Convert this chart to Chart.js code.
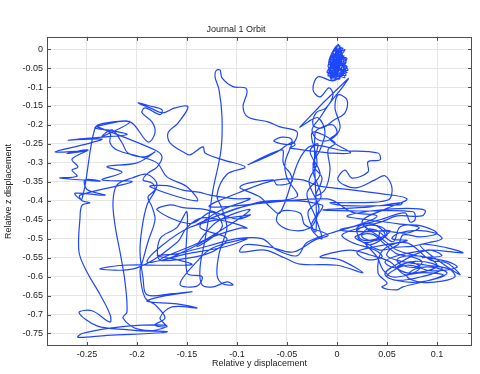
<!DOCTYPE html>
<html>
<head>
<meta charset="utf-8">
<title>Journal 1 Orbit</title>
<script src="https://cdn.jsdelivr.net/npm/chart.js@4.4.1/dist/chart.umd.min.js"></script>
<style>
  html, body { margin: 0; padding: 0; background: #fff; }
  #orbitChart { display: block; }
</style>
</head>
<body>
<canvas id="orbitChart" width="480" height="374"></canvas>
<script>
// ---------------- Orbit data (relative y, relative z) ----------------
// segment by segment along the path

const startCluster = [
  [0.000, 0.000], [-0.004, -0.035], [0.003, 0.008], [-0.007, -0.055], [0.005, -0.010],
  [-0.009, -0.070], [0.009, -0.035], [-0.003, -0.002], [-0.006, -0.080], [0.007, -0.062],
  [0.001, 0.010], [-0.008, -0.040], [0.010, -0.045], [-0.002, -0.075], [0.004, -0.015],
  [-0.005, -0.022], [0.008, -0.002], [-0.010, -0.060], [0.002, -0.058], [-0.001, 0.005],
  [-0.006, -0.035], [0.009, -0.060], [-0.004, -0.070], [0.005, -0.028], [0.001, 0.012],
  [-0.003, -0.055], [0.007, -0.018], [-0.007, -0.065], [0.003, -0.045], [0.000, -0.003],
  [-0.005, -0.050], [0.006, -0.040], [0.004, -0.070], [-0.008, -0.050], [0.011, -0.055],
  [-0.004, -0.010], [0.006, 0.002], [-0.009, -0.045], [0.008, -0.075], [-0.002, -0.030],
  [0.010, -0.025], [-0.006, -0.078], [0.002, -0.008], [-0.007, -0.028], [0.009, -0.068],
  [-0.003, -0.062], [0.004, -0.038], [-0.006, -0.072], [0.007, -0.050], [-0.002, -0.015],
  [0.004, 0.004], [-0.008, -0.058], [0.010, -0.062], [-0.001, -0.045], [0.006, -0.020],
  [-0.009, -0.066], [0.003, -0.078], [-0.005, -0.040], [0.008, -0.030], [-0.002, 0.002],
  [0.002, -0.052], [-0.007, -0.074], [0.009, -0.048], [-0.003, -0.025], [0.005, -0.065],
  [-0.004, -0.084]
];

const upperDrift = [
  [-0.019, -0.073], [-0.024, -0.107], [-0.017, -0.126], [-0.008, -0.102], [-0.004, -0.121],
  [-0.011, -0.155], [-0.021, -0.168], [-0.024, -0.200], [-0.015, -0.208], [-0.003, -0.187],
  [0.008, -0.168], [0.010, -0.134], [0.001, -0.121], [-0.002, -0.155], [0.003, -0.208],
  [-0.007, -0.239], [-0.019, -0.239], [-0.025, -0.213], [-0.017, -0.181], [-0.007, -0.142],
  [0.005, -0.102], [0.011, -0.078], [-0.037, -0.205], [-0.029, -0.192], [-0.019, -0.181],
  [-0.012, -0.218], [-0.017, -0.266], [-0.024, -0.305], [-0.015, -0.340], [-0.021, -0.385],
  [-0.012, -0.371], [-0.007, -0.319], [-0.009, -0.266], [-0.002, -0.247]
];

const centreColumn = [
  [-0.025, -0.220], [-0.020, -0.300], [-0.028, -0.350], [-0.018, -0.420], [-0.026, -0.470],
  [-0.015, -0.500], [-0.022, -0.440], [-0.030, -0.380], [-0.017, -0.330], [-0.027, -0.270],
  [-0.019, -0.250], [-0.024, -0.320], [-0.016, -0.390], [-0.029, -0.430], [-0.021, -0.480],
  [-0.022, -0.221], [-0.014, -0.205], [-0.004, -0.200], [0.000, -0.221], [-0.007, -0.239],
  [0.013, -0.274], [-0.047, -0.261], [-0.042, -0.253], [-0.044, -0.245], [-0.050, -0.253],
  [-0.060, -0.271], [-0.089, -0.305], [-0.055, -0.266], [-0.054, -0.297], [-0.052, -0.311],
  [-0.047, -0.327], [-0.045, -0.350], [-0.060, -0.358], [-0.064, -0.345], [-0.097, -0.363],
  [-0.077, -0.390], [-0.067, -0.416], [-0.057, -0.432]
];

const upperRight = [
  [-0.030, -0.262], [0.008, -0.268], [0.041, -0.274], [0.043, -0.292], [0.031, -0.297],
  [0.031, -0.324], [0.015, -0.340], [0.008, -0.319], [0.001, -0.345], [0.018, -0.366],
  [0.038, -0.345], [0.048, -0.334], [0.055, -0.366], [0.051, -0.398]
];

const rightTangle = [
  [0.013, -0.405], [-0.007, -0.405], [0.008, -0.413], [0.063, -0.411], [0.065, -0.405],
  [0.033, -0.416], [-0.014, -0.424], [0.023, -0.427], [0.076, -0.429], [0.078, -0.450],
  [0.073, -0.456], [0.068, -0.432], [0.043, -0.450], [0.023, -0.464], [0.003, -0.477],
  [0.028, -0.482], [0.053, -0.479], [0.043, -0.498], [0.025, -0.503], [0.020, -0.472],
  [0.035, -0.461], [0.048, -0.490], [0.033, -0.516], [0.021, -0.495], [0.038, -0.477],
  [0.056, -0.508], [0.063, -0.469], [0.080, -0.464], [0.096, -0.477], [0.100, -0.487],
  [0.083, -0.495], [0.066, -0.490], [0.061, -0.516], [0.043, -0.530], [0.028, -0.511],
  [0.040, -0.548], [0.046, -0.582], [0.056, -0.601], [0.083, -0.590], [0.106, -0.595],
  [0.093, -0.609], [0.066, -0.627], [0.060, -0.635], [0.045, -0.628], [0.050, -0.617],
  [0.041, -0.590], [0.046, -0.530], [0.070, -0.511], [0.093, -0.556], [0.110, -0.564],
  [0.123, -0.595], [0.103, -0.561], [0.083, -0.516], [0.110, -0.524], [0.126, -0.537],
  [0.115, -0.535], [0.093, -0.530], [0.063, -0.543], [0.048, -0.561], [0.058, -0.577],
  [0.073, -0.561], [0.083, -0.577], [0.068, -0.595], [0.053, -0.561], [0.033, -0.543],
  [0.013, -0.530], [-0.017, -0.548], [0.003, -0.556], [0.026, -0.590], [0.000, -0.570]
];

const middleBand = [
  [-0.037, -0.567], [-0.052, -0.551], [-0.072, -0.530], [-0.097, -0.535], [-0.092, -0.516],
  [-0.067, -0.522], [-0.044, -0.535], [-0.022, -0.503], [-0.009, -0.490], [-0.032, -0.464],
  [-0.037, -0.432], [-0.057, -0.429], [-0.060, -0.456], [-0.047, -0.477], [-0.027, -0.472],
  [-0.019, -0.437], [-0.015, -0.411], [-0.060, -0.400], [-0.100, -0.420], [-0.140, -0.462],
  [-0.120, -0.440], [-0.080, -0.405], [-0.040, -0.389], [-0.050, -0.340], [-0.052, -0.300],
  [-0.045, -0.240], [-0.055, -0.232], [-0.063, -0.243], [-0.045, -0.250], [-0.040, -0.218],
  [-0.057, -0.205], [-0.069, -0.192], [-0.089, -0.179], [-0.094, -0.152], [-0.090, -0.115],
  [-0.092, -0.102], [-0.104, -0.099], [-0.115, -0.076], [-0.117, -0.055], [-0.121, -0.057],
  [-0.122, -0.073], [-0.118, -0.107], [-0.115, -0.179], [-0.116, -0.266], [-0.124, -0.371],
  [-0.127, -0.424], [-0.132, -0.503], [-0.137, -0.577], [-0.135, -0.622], [-0.124, -0.627],
  [-0.110, -0.614], [-0.104, -0.622], [-0.115, -0.618], [-0.120, -0.595], [-0.118, -0.540],
  [-0.113, -0.500], [-0.110, -0.470], [-0.115, -0.420], [-0.120, -0.385], [-0.110, -0.330],
  [-0.092, -0.311], [-0.114, -0.292], [-0.132, -0.274], [-0.134, -0.258], [-0.147, -0.279]
];

const upperLeft = [
  [-0.152, -0.274], [-0.167, -0.247], [-0.169, -0.221], [-0.159, -0.195], [-0.149, -0.152],
  [-0.162, -0.155], [-0.174, -0.168], [-0.187, -0.155], [-0.199, -0.142], [-0.187, -0.150],
  [-0.175, -0.160], [-0.177, -0.173], [-0.192, -0.155], [-0.195, -0.168], [-0.185, -0.192],
  [-0.182, -0.221], [-0.189, -0.245], [-0.207, -0.192], [-0.234, -0.200], [-0.242, -0.208],
  [-0.225, -0.215], [-0.210, -0.225], [-0.235, -0.232], [-0.269, -0.240], [-0.235, -0.237],
  [-0.250, -0.250], [-0.282, -0.271], [-0.250, -0.268], [-0.270, -0.275], [-0.249, -0.266],
  [-0.265, -0.290], [-0.259, -0.311], [-0.265, -0.319], [-0.260, -0.335], [-0.277, -0.340],
  [-0.237, -0.348], [-0.252, -0.345], [-0.250, -0.370], [-0.232, -0.385], [-0.262, -0.380],
  [-0.255, -0.395]
];

const upperLeftWiggles = [
  [-0.242, -0.208], [-0.232, -0.195], [-0.207, -0.192], [-0.235, -0.231], [-0.225, -0.213],
  [-0.215, -0.247], [-0.209, -0.274], [-0.192, -0.284], [-0.182, -0.271], [-0.200, -0.300],
  [-0.230, -0.310], [-0.215, -0.325], [-0.235, -0.345], [-0.205, -0.350]
];

const leftColumns = [
  [-0.257, -0.385], [-0.255, -0.400], [-0.247, -0.405], [-0.255, -0.412], [-0.257, -0.445],
  [-0.258, -0.535], [-0.250, -0.588], [-0.237, -0.647], [-0.227, -0.700], [-0.227, -0.720],
  [-0.245, -0.690], [-0.258, -0.695], [-0.240, -0.730], [-0.210, -0.740], [-0.185, -0.743],
  [-0.170, -0.730], [-0.195, -0.728], [-0.225, -0.735], [-0.255, -0.750], [-0.259, -0.760],
  [-0.230, -0.755], [-0.175, -0.748], [-0.170, -0.745], [-0.200, -0.738], [-0.214, -0.709],
  [-0.210, -0.693], [-0.212, -0.614], [-0.217, -0.535], [-0.222, -0.464], [-0.224, -0.403],
  [-0.220, -0.358], [-0.205, -0.340], [-0.190, -0.330], [-0.180, -0.358], [-0.190, -0.411],
  [-0.195, -0.472], [-0.197, -0.535], [-0.194, -0.603], [-0.190, -0.648], [-0.165, -0.645],
  [-0.145, -0.640], [-0.175, -0.652], [-0.190, -0.665], [-0.160, -0.672], [-0.140, -0.683],
  [-0.165, -0.680], [-0.177, -0.709], [-0.170, -0.732], [-0.182, -0.727], [-0.172, -0.709],
  [-0.182, -0.674], [-0.192, -0.656], [-0.197, -0.587], [-0.194, -0.556], [-0.189, -0.508],
  [-0.182, -0.450], [-0.185, -0.416], [-0.189, -0.390], [-0.182, -0.371], [-0.185, -0.353],
  [-0.194, -0.345], [-0.189, -0.327], [-0.180, -0.311], [-0.175, -0.284], [-0.182, -0.266],
  [-0.240, -0.205], [-0.227, -0.221], [-0.227, -0.247], [-0.220, -0.266], [-0.197, -0.284],
  [-0.180, -0.300], [-0.170, -0.337], [-0.150, -0.363], [-0.140, -0.400]
];

const middleKnot = [
  [-0.187, -0.363], [-0.170, -0.360], [-0.154, -0.372], [-0.137, -0.378], [-0.127, -0.385],
  [-0.100, -0.395], [-0.087, -0.395], [-0.120, -0.430], [-0.137, -0.470], [-0.110, -0.500],
  [-0.130, -0.540], [-0.177, -0.556], [-0.130, -0.500], [-0.087, -0.424], [-0.120, -0.455],
  [-0.140, -0.520], [-0.115, -0.470], [-0.125, -0.430], [-0.147, -0.460], [-0.180, -0.424],
  [-0.167, -0.411], [-0.154, -0.418], [-0.130, -0.424], [-0.100, -0.448], [-0.087, -0.437],
  [-0.147, -0.470], [-0.190, -0.560], [-0.150, -0.540], [-0.110, -0.520], [-0.090, -0.500],
  [-0.125, -0.525], [-0.140, -0.560], [-0.157, -0.620], [-0.140, -0.625], [-0.135, -0.600],
  [-0.150, -0.590]
];

const returnPath = [
  [-0.150, -0.430], [-0.160, -0.470], [-0.177, -0.500], [-0.177, -0.556], [-0.150, -0.530],
  [-0.124, -0.495], [-0.097, -0.472], [-0.090, -0.472], [-0.110, -0.455], [-0.135, -0.445],
  [-0.150, -0.470], [-0.160, -0.510], [-0.200, -0.577], [-0.237, -0.580], [-0.215, -0.570],
  [-0.170, -0.570], [-0.145, -0.568], [-0.160, -0.555], [-0.180, -0.545], [-0.160, -0.540],
  [-0.130, -0.520], [-0.100, -0.500], [-0.075, -0.500], [-0.060, -0.530], [-0.040, -0.545],
  [-0.030, -0.510], [0.000, -0.480], [0.020, -0.465], [0.040, -0.440], [0.015, -0.430],
  [-0.010, -0.395], [-0.127, -0.416], [-0.090, -0.370], [-0.060, -0.345], [-0.034, -0.345],
  [-0.020, -0.360], [0.010, -0.370], [0.040, -0.380], [0.070, -0.395], [0.050, -0.420],
  [0.025, -0.455], [0.045, -0.500], [0.060, -0.530], [0.080, -0.545], [0.110, -0.560],
  [0.120, -0.575], [0.095, -0.585], [0.070, -0.570], [0.050, -0.600], [0.075, -0.615],
  [0.100, -0.605]
];

const rightLoops = [
  [0.110, -0.590], [0.095, -0.575], [0.078, -0.580], [0.070, -0.600], [0.085, -0.615],
  [0.105, -0.612], [0.118, -0.600], [0.112, -0.580], [0.090, -0.570], [0.065, -0.560],
  [0.050, -0.545], [0.055, -0.525], [0.075, -0.520], [0.092, -0.510], [0.105, -0.500],
  [0.098, -0.485], [0.080, -0.478], [0.062, -0.485], [0.055, -0.500], [0.070, -0.505],
  [0.040, -0.520], [0.020, -0.535], [0.030, -0.555], [0.045, -0.548], [0.038, -0.530],
  [0.015, -0.510], [0.005, -0.490], [0.025, -0.470], [0.045, -0.455], [0.060, -0.440],
  [0.085, -0.440], [0.088, -0.425], [0.070, -0.420], [0.040, -0.425], [0.010, -0.440],
  [0.030, -0.450], [0.060, -0.460], [0.082, -0.470], [0.070, -0.485], [0.048, -0.480]
];

const rightKnots = [
  [0.020, -0.480], [0.030, -0.465], [0.045, -0.470], [0.050, -0.490], [0.038, -0.505],
  [0.025, -0.495], [0.030, -0.475], [0.042, -0.482], [0.040, -0.500], [0.028, -0.510],
  [0.018, -0.495], [0.035, -0.488], [0.048, -0.515], [0.060, -0.540], [0.075, -0.548],
  [0.085, -0.560], [0.080, -0.575], [0.065, -0.570], [0.060, -0.555], [0.072, -0.545],
  [0.090, -0.550], [0.100, -0.570], [0.090, -0.585], [0.070, -0.590], [0.060, -0.575],
  [0.078, -0.560], [0.095, -0.565], [0.105, -0.580], [0.085, -0.600], [0.060, -0.610],
  [0.048, -0.595], [0.055, -0.575], [0.090, -0.530], [0.105, -0.545], [0.085, -0.550]
];

// ---------------- Axis settings ----------------
const yDispRange = [-0.29, 0.135];    // horizontal axis
const zDispRange = [-0.783, 0.0325];  // vertical axis
const tickStep = 0.05;

const orbit = [].concat(startCluster, upperDrift, centreColumn, upperRight, rightTangle,
  middleBand, upperLeft, upperLeftWiggles, leftColumns, middleKnot, returnPath,
  rightLoops, rightKnots)
  .map(p => ({ x: p[0], y: p[1] }));

// ---------------- Frame + inward ticks ----------------
const framePlugin = {
  id: 'frame',
  afterDatasetsDraw(chart) {
    const { ctx, chartArea: a, scales } = chart;
    ctx.save();
    ctx.strokeStyle = '#4d4d4d';
    ctx.lineWidth = 1;
    ctx.strokeRect(Math.round(a.left) + 0.5, Math.round(a.top) + 0.5,
      Math.round(a.right - a.left) - 1, Math.round(a.bottom - a.top) - 1);
    ctx.beginPath();
    scales.x.ticks.forEach(t => {
      const px = Math.round(scales.x.getPixelForValue(t.value)) + 0.5;
      ctx.moveTo(px, a.bottom); ctx.lineTo(px, a.bottom - 4);
      ctx.moveTo(px, a.top); ctx.lineTo(px, a.top + 4);
    });
    scales.y.ticks.forEach(t => {
      const py = Math.round(scales.y.getPixelForValue(t.value)) + 0.5;
      ctx.moveTo(a.left, py); ctx.lineTo(a.left + 4, py);
      ctx.moveTo(a.right, py); ctx.lineTo(a.right - 4, py);
    });
    ctx.stroke();
    ctx.restore();
  }
};

const tickLabel = v => String(Math.round(v * 1000) / 1000);
const font = { family: 'Liberation Sans, Arial, sans-serif', size: 9 };

// ---------------- Chart ----------------
const ctx = document.getElementById('orbitChart').getContext('2d');
new Chart(ctx, {
  type: 'scatter',
  data: {
    datasets: [{
      data: orbit,
      showLine: true,
      borderColor: '#1e46ff',
      borderWidth: 1.2,
      pointRadius: 0,
      tension: 0.35
    }]
  },
  options: {
    responsive: false,
    animation: false,
    devicePixelRatio: 1,
    layout: { padding: { right: 8 } },
    plugins: {
      legend: { display: false },
      tooltip: { enabled: false },
      title: {
        display: true,
        text: 'Journal 1 Orbit',
        color: '#222',
        font: { ...font, weight: 'normal' },
        padding: { top: 24, bottom: 2 }
      }
    },
    scales: {
      x: {
        type: 'linear',
        min: yDispRange[0],
        max: yDispRange[1],
        afterFit: s => { s.height = 28; },
        grid: { color: '#e6e6e6', drawTicks: false },
        border: { display: false },
        ticks: { stepSize: tickStep, includeBounds: false, autoSkip: false, maxRotation: 0,
                 padding: 3, color: '#222', font, callback: tickLabel },
        title: { display: true, text: 'Relative y displacement', color: '#222', font,
                 padding: { top: 0, bottom: 5 } }
      },
      y: {
        type: 'linear',
        min: zDispRange[0],
        max: zDispRange[1],
        afterFit: s => { s.width = 47; },
        grid: { color: '#e6e6e6', drawTicks: false },
        border: { display: false },
        ticks: { stepSize: tickStep, includeBounds: false, autoSkip: false,
                 padding: 4, color: '#222', font, callback: tickLabel },
        title: { display: true, text: 'Relative z displacement', color: '#222', font,
                 padding: { top: 3, bottom: 0 } }
      }
    }
  },
  plugins: [framePlugin]
});
</script>
</body>
</html>
